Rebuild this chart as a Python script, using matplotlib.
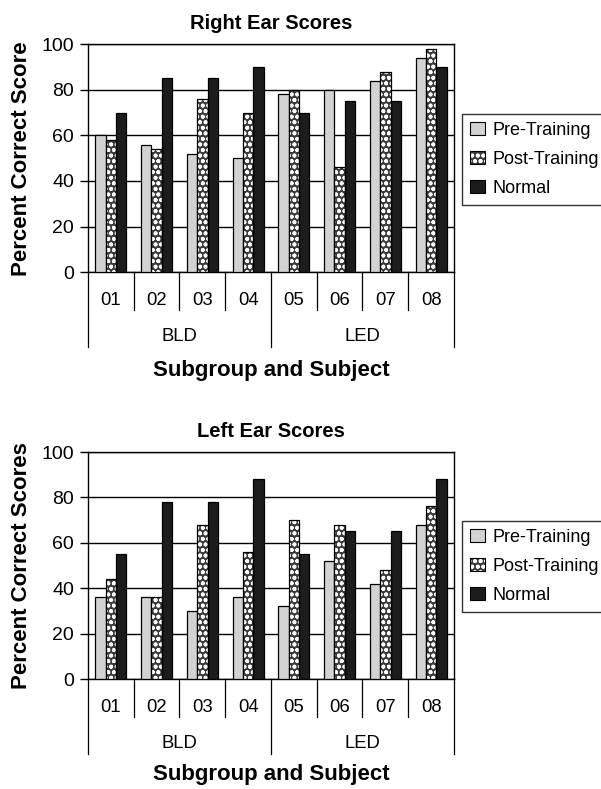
import numpy as np
import matplotlib.pyplot as plt
from matplotlib.patches import Patch

plt.rcParams['font.family'] = ['Liberation Sans', 'DejaVu Sans']
plt.rcParams['hatch.linewidth'] = 1.2

subjects = ['01', '02', '03', '04', '05', '06', '07', '08']
groups = ['BLD', 'LED']
series = ['Pre-Training', 'Post-Training', 'Normal']

right_pre = [60, 56, 52, 50, 78, 80, 84, 94]
right_post = [58, 54, 76, 70, 80, 46, 88, 98]
right_normal = [70, 85, 85, 90, 70, 75, 75, 90]

left_pre = [36, 36, 30, 36, 32, 52, 42, 68]
left_post = [44, 36, 68, 56, 70, 68, 48, 76]
left_normal = [55, 78, 78, 88, 55, 65, 65, 88]

pre_color = '#d2d2d2'
post_color = '#3c3c3c'
normal_color = '#1c1c1c'


def draw_panel(ax, pre, post, normal, title, ylabel, legend_anchor, xlabel_px):
    x = np.arange(len(subjects))
    w = 0.225
    ax.bar(x - w, pre, w, color=pre_color, edgecolor='black', linewidth=0.9, zorder=3)
    # dotted bars: white hatch on dark fill, then a black outline on top
    ax.bar(x, post, w, color=post_color, edgecolor='white', hatch='ooo', linewidth=0, zorder=3)
    ax.bar(x, post, w, color='none', edgecolor='black', linewidth=0.9, zorder=4)
    ax.bar(x + w, normal, w, color=normal_color, edgecolor='black', linewidth=0.9, zorder=3)

    ax.set_xlim(-0.5, len(subjects) - 0.5)
    ax.set_ylim(0, 100)
    ax.set_yticks(range(0, 101, 20))
    ax.tick_params(axis='y', direction='out', length=6, width=1, pad=4, labelsize=14)
    ax.set_xticks([])
    ax.yaxis.grid(True, color='black', linewidth=1)
    ax.set_axisbelow(True)
    for s in ax.spines.values():
        s.set_linewidth(1)
    ax.set_title(title, fontsize=14.5, fontweight='bold', pad=11)
    ax.set_ylabel(ylabel, fontsize=16, fontweight='bold')
    ax.yaxis.set_label_coords(-0.152, 0.5)

    # two-level category axis below the plot (offsets given in pixels)
    h = ax.get_position().height * ax.figure.bbox.height
    tr = ax.get_xaxis_transform()
    for b in np.arange(-0.5, len(subjects), 1):
        depth = 75 if b in (-0.5, 3.5, 7.5) else 38
        ax.plot([b, b], [0, -depth / h], color='black', linewidth=0.9,
                transform=tr, clip_on=False)
    for i, s in enumerate(subjects):
        ax.text(i, -28 / h, s, transform=tr, ha='center', va='center', fontsize=13.3)
    ax.text(1.5, -64 / h, groups[0], transform=tr, ha='center', va='center', fontsize=13.3)
    ax.text(5.5, -64 / h, groups[1], transform=tr, ha='center', va='center', fontsize=13.3)
    ax.text(3.5, -xlabel_px / h, 'Subgroup and Subject', transform=tr, ha='center',
            va='center', fontsize=16, fontweight='bold')

    handles = [
        Patch(facecolor=pre_color, edgecolor='black', linewidth=0.8),
        (Patch(facecolor=post_color, edgecolor='white', hatch='ooo', linewidth=0),
         Patch(facecolor='none', edgecolor='black', linewidth=0.8)),
        Patch(facecolor=normal_color, edgecolor='black', linewidth=0.8),
    ]
    leg = ax.figure.legend(handles, series, loc='upper left', bbox_to_anchor=legend_anchor,
                           fontsize=13, frameon=True, fancybox=False, edgecolor='black',
                           handlelength=0.85, handleheight=0.75, handletextpad=0.4,
                           labelspacing=0.68, borderpad=0.42, borderaxespad=0)
    leg.get_frame().set_linewidth(1)


fig = plt.figure(figsize=(6.01, 7.89), dpi=100)
ax1 = fig.add_axes([0.1464, 0.655, 0.609, 0.289])
ax2 = fig.add_axes([0.1464, 0.1394, 0.609, 0.2877])

draw_panel(ax1, right_pre, right_post, right_normal, 'Right Ear Scores',
           'Percent Correct Score', (462 / 601, 1 - 114 / 789), 98)
draw_panel(ax2, left_pre, left_post, left_normal, 'Left Ear Scores',
           'Percent Correct Scores', (462 / 601, 1 - 521 / 789), 95)

fig.savefig('out.png', dpi=100)
